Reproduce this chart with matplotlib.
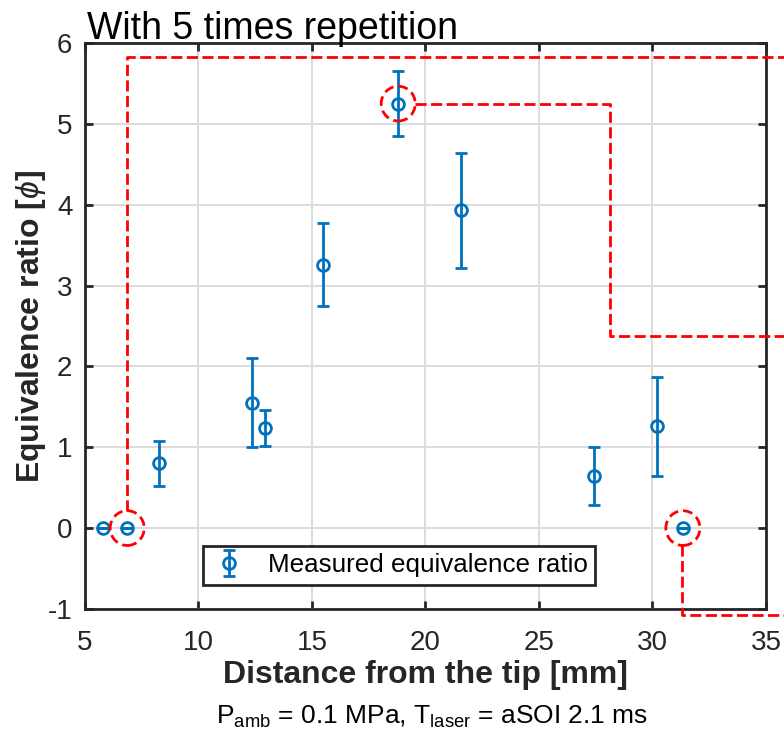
import matplotlib
matplotlib.use('Agg')
import matplotlib.pyplot as plt
from matplotlib.patches import Ellipse
import numpy as np

plt.rcParams['font.family'] = ['Liberation Sans', 'DejaVu Sans']
plt.rcParams['mathtext.fontset'] = 'custom'
plt.rcParams['mathtext.rm'] = 'Liberation Sans'
plt.rcParams['mathtext.it'] = 'Liberation Sans:italic'
plt.rcParams['mathtext.bf'] = 'Liberation Sans:bold'
plt.rcParams['axes.unicode_minus'] = False

# measured data
distance = [5.8, 6.86, 8.25, 12.34, 12.93, 15.47, 18.8, 21.56, 27.44, 30.18, 31.34]
phi = [0.0, 0.0, 0.80, 1.55, 1.24, 3.26, 5.25, 3.93, 0.645, 1.26, 0.0]
phi_err = [0.0, 0.0, 0.28, 0.55, 0.225, 0.51, 0.405, 0.715, 0.36, 0.615, 0.0]

# highlighted points and the dashed red leader paths
highlight_idx = [1, 6, 10]
leader_paths = [
    ([6.84, 6.84, 36.5], [0.21, 5.83, 5.83]),
    ([19.55, 28.13, 28.13, 36.5], [5.25, 5.25, 2.38, 2.38]),
    ([31.28, 31.28, 36.5], [-0.21, -1.07, -1.07]),
]

blue = '#0072BD'
red = '#FF0000'
dark = '#262626'

fig = plt.figure(figsize=(7.84, 7.36), dpi=100)
ax = fig.add_axes([0.1084, 0.1726, 0.8686, 0.769])

ax.errorbar(distance, phi, yerr=phi_err, fmt='o', color=blue, mfc='none',
            mec=blue, ms=8.5, mew=2.0, elinewidth=2.0, capsize=4.3, capthick=2.0,
            label='Measured equivalence ratio', zorder=3)

for i in highlight_idx:
    e = Ellipse((distance[i], phi[i]), width=1.5, height=0.43, fill=False,
                edgecolor=red, lw=2.0, linestyle=(0, (3.5, 1.8)), clip_on=False, zorder=4)
    ax.add_patch(e)

for xs, ys in leader_paths:
    ax.plot(xs, ys, color=red, lw=2.0, dashes=[4, 1.6], clip_on=False, zorder=4)

ax.set_xlim(5, 35)
ax.set_ylim(-1, 6)
ax.set_xticks(np.arange(5, 36, 5))
ax.set_yticks(np.arange(-1, 7, 1))
ax.grid(True, color='#dcdcdc', lw=1.4)
ax.set_axisbelow(True)
ax.tick_params(direction='in', length=6, width=2, labelsize=20, colors=dark,
               top=True, right=True)
ax.tick_params(axis='x', pad=15)
ax.tick_params(axis='y', pad=9)
for s in ax.spines.values():
    s.set_linewidth(2)
    s.set_color(dark)

ax.set_xlabel('Distance from the tip [mm]', fontsize=23, fontweight='bold',
              color=dark, labelpad=3)
ax.set_ylabel(r'Equivalence ratio [$\it{\phi}$]', fontsize=23, fontweight='bold',
              color=dark)
ax.yaxis.set_label_coords(-0.054, 0.5)
ax.set_title('With 5 times repetition', loc='left', fontsize=27, pad=3, x=0.003)

leg = ax.legend(loc='lower left', bbox_to_anchor=(0.173, 0.042), borderaxespad=0,
                fontsize=18.7, fancybox=False, edgecolor=dark, framealpha=1,
                handlelength=1.4, borderpad=0.3, handletextpad=0.8)
leg.get_frame().set_linewidth(2)

fig.text(0.5517, 0.016, r'P$_{\mathregular{amb}}$ = 0.1 MPa, T$_{\mathregular{laser}}$ = aSOI 2.1 ms',
         ha='center', va='baseline', fontsize=19)

fig.savefig('out.png', dpi=100)
